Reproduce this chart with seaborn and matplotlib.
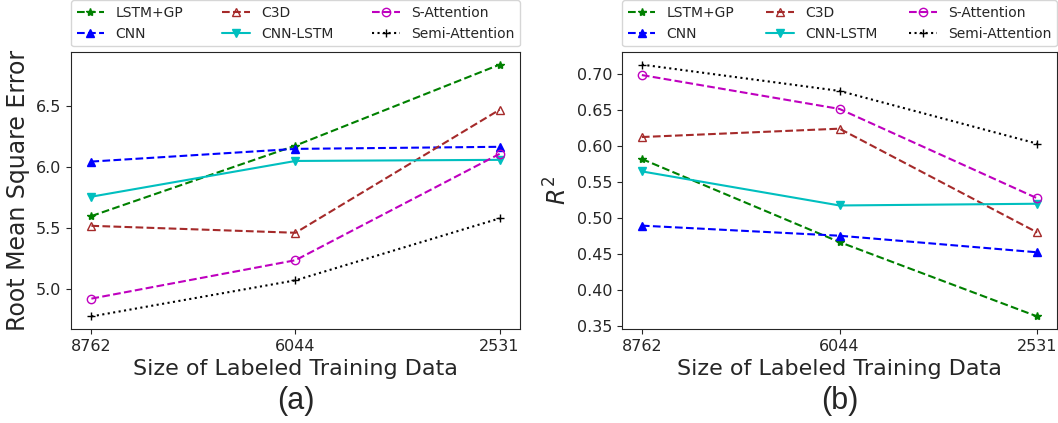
import matplotlib
matplotlib.use("Agg")
import matplotlib.pyplot as plt
import seaborn as sns
import pandas as pd

sizes = ["8762", "6044", "2531"]
methods = ["LSTM+GP", "CNN", "C3D", "CNN-LSTM", "S-Attention", "Semi-Attention"]

rmse_lstm_gp = [5.595, 6.173, 6.837]
rmse_cnn = [6.042, 6.146, 6.163]
rmse_c3d = [5.515, 5.458, 6.467]
rmse_cnn_lstm = [5.754, 6.047, 6.056]
rmse_s_att = [4.918, 5.233, 6.105]
rmse_semi_att = [4.772, 5.068, 5.576]

r2_lstm_gp = [0.5815, 0.4662, 0.363]
r2_cnn = [0.489, 0.475, 0.452]
r2_c3d = [0.612, 0.6236, 0.4796]
r2_cnn_lstm = [0.5643, 0.517, 0.5194]
r2_s_att = [0.698, 0.651, 0.527]
r2_semi_att = [0.7125, 0.676, 0.6028]

rmse = [rmse_lstm_gp, rmse_cnn, rmse_c3d, rmse_cnn_lstm, rmse_s_att, rmse_semi_att]
r2 = [r2_lstm_gp, r2_cnn, r2_c3d, r2_cnn_lstm, r2_s_att, r2_semi_att]

styles = {
    "LSTM+GP": dict(color="g", ls="--", marker="*", mfc="g"),
    "CNN": dict(color="b", ls="--", marker="^", mfc="b"),
    "C3D": dict(color="brown", ls="--", marker="^", mfc="none"),
    "CNN-LSTM": dict(color="c", ls="-", marker="v", mfc="c"),
    "S-Attention": dict(color="m", ls="--", marker="o", mfc="none"),
    "Semi-Attention": dict(color="k", ls=":", marker="+", mfc="k"),
}

sns.set_style("ticks")
plt.rcParams["font.family"] = ["DejaVu Sans"]

fig = plt.figure(figsize=(10.58, 4.23), dpi=100)
ax1 = fig.add_axes([0.0671, 0.2222, 0.4244, 0.6548])
ax2 = fig.add_axes([0.5880, 0.2222, 0.4110, 0.6548])


def draw(ax, values, ylabel, tag):
    for m, vals in zip(methods, values):
        df = pd.DataFrame({"size": sizes, "val": vals})
        st = styles[m]
        sns.lineplot(data=df, x="size", y="val", ax=ax, sort=False,
                     color=st["color"], linestyle=st["ls"], marker=st["marker"],
                     markerfacecolor=st["mfc"], markeredgecolor=st["color"],
                     markersize=6, markeredgewidth=1.0, linewidth=1.5, label=m)
    ax.set_xlabel("Size of Labeled Training Data", fontsize=16)
    ax.set_ylabel(ylabel, fontsize=17)
    ax.tick_params(labelsize=11.5)
    ax.legend(ncol=3, loc="lower left", bbox_to_anchor=(0, 1.02, 1, 0.2),
              mode="expand", borderaxespad=0, fontsize=10, frameon=True)
    pos = ax.get_position()
    fig.text((pos.x0 + pos.x1) / 2, 0.052, tag, ha="center", va="center",
             fontsize=22, family=["Liberation Sans", "DejaVu Sans"])


draw(ax1, rmse, "Root Mean Square Error", "(a)")
draw(ax2, r2, "$R^2$", "(b)")
ax2.set_yticks([0.35, 0.40, 0.45, 0.50, 0.55, 0.60, 0.65, 0.70])
ax1.set_yticks([5.0, 5.5, 6.0, 6.5])

fig.savefig("out.png", dpi=100)
